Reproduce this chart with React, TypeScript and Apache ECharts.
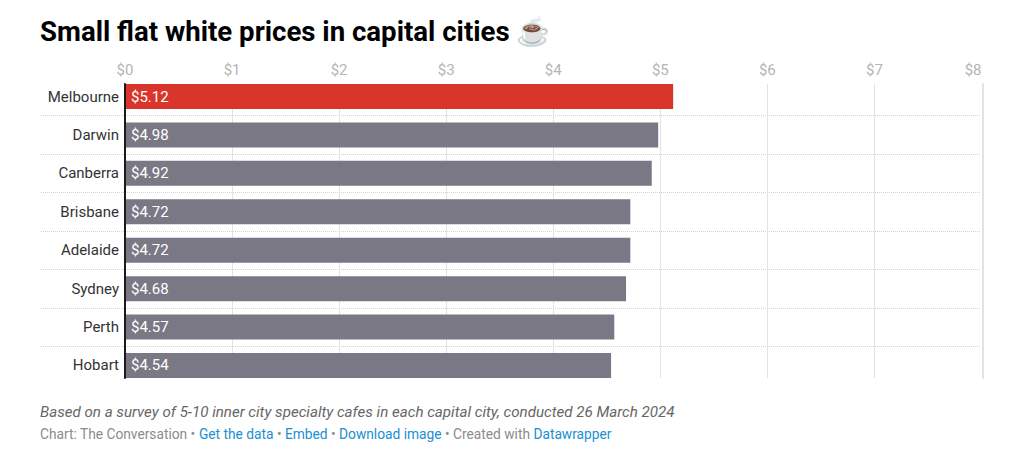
import React, { useEffect, useRef } from "react";
import * as echarts from "echarts";

const cities = ["Melbourne", "Darwin", "Canberra", "Brisbane", "Adelaide", "Sydney", "Perth", "Hobart"];
const prices = [5.12, 4.98, 4.92, 4.72, 4.72, 4.68, 4.57, 4.54];
const highlightCity = "Melbourne";
const titleText = "Small flat white prices in capital cities ☕";
const noteText = "Based on a survey of 5-10 inner city specialty cafes in each capital city, conducted 26 March 2024";
const FONT = "Roboto";

export default function App() {
  const ref = useRef<HTMLDivElement>(null);
  useEffect(() => {
    const chart = echarts.init(ref.current!, null, { renderer: "svg" });
    const hiddenX = (gridIndex: number) => ({
      type: "value", gridIndex, min: 0, max: 8, interval: 1, show: false,
    });
    chart.setOption({
      animation: false,
      backgroundColor: "#fff",
      grid: [
        { left: 125, top: 84, width: 856.5, height: 294 },
        { left: 125, top: 77.3, width: 856.5, height: 307.4 },
        { left: 41, top: 77, width: 939, height: 308 },
      ],
      xAxis: [
        {
          type: "value", gridIndex: 0, position: "top", min: 0, max: 8, interval: 1,
          axisLine: { show: false }, axisTick: { show: false },
          axisLabel: { color: "#b5b5b5", fontFamily: FONT, fontSize: 15, margin: 7, alignMaxLabel: "right", formatter: (v: number) => `$${v}` },
          splitLine: { show: true, showMinLine: false, showMaxLine: false, lineStyle: { color: "#e3e3e3", width: 1 } },
        },
        hiddenX(1),
        hiddenX(2),
      ],
      yAxis: [
        {
          type: "value", gridIndex: 0, min: 0, max: 1, position: "left", z: 5,
          axisLine: { show: true, onZero: false, lineStyle: { color: "#1a1a1a", width: 2 } },
          axisTick: { show: false }, axisLabel: { show: false }, splitLine: { show: false },
        },
        {
          type: "category", gridIndex: 1, inverse: true, data: cities,
          axisLine: { show: false }, axisTick: { show: false },
          axisLabel: { color: "#333333", fontFamily: FONT, fontSize: 15, margin: 6 },
          splitLine: { show: false },
        },
        {
          type: "category", gridIndex: 2, inverse: true, data: cities,
          axisLine: { show: false }, axisTick: { show: false }, axisLabel: { show: false },
          splitLine: { show: true, showMinLine: false, showMaxLine: false, interval: 0, lineStyle: { color: "#d4d4d4", width: 1, type: [1, 1] } },
        },
        {
          type: "value", gridIndex: 0, min: 0, max: 1, position: "right", offset: 1,
          axisLine: { show: true, onZero: false, lineStyle: { color: "#e3e3e3", width: 2 } },
          axisTick: { show: false }, axisLabel: { show: false }, splitLine: { show: false },
        },
      ],
      series: [
        {
          type: "bar", xAxisIndex: 1, yAxisIndex: 1, barWidth: 25, z: 3,
          data: prices.map((v, i) => ({
            value: v,
            itemStyle: { color: cities[i] === highlightCity ? "#d9352a" : "#7a7885" },
          })),
          label: {
            show: true, position: "insideLeft", distance: 6, color: "#ffffff",
            fontFamily: FONT, fontSize: 15, formatter: (p: any) => `$${p.value.toFixed(2)}`,
          },
        },
      ],
      graphic: [
        {
          type: "text", left: 40, top: 17,
          style: { text: titleText, font: `700 27.6px ${FONT}, "Noto Color Emoji", "DejaVu Sans"`, fill: "#000000" },
        },
        {
          type: "text", left: 40, top: 404,
          style: { text: noteText, font: `italic 15.13px ${FONT}`, fill: "#666666" },
        },
        {
          type: "text", left: 40, top: 427,
          style: {
            text: "{g|Chart: The Conversation • }{b|Get the data}{g| • }{b|Embed}{g| • }{b|Download image}{g| • Created with }{b|Datawrapper}",
            font: `13.75px ${FONT}`,
            rich: {
              g: { fill: "#8c8c8c", font: `13.75px ${FONT}` },
              b: { fill: "#1b8fd0", font: `13.75px ${FONT}` },
            },
          },
        },
      ],
    });
    return () => chart.dispose();
  }, []);
  return <div ref={ref} style={{ position: "absolute", left: 0, top: 0, width: 1017, height: 465 }} />;
}
